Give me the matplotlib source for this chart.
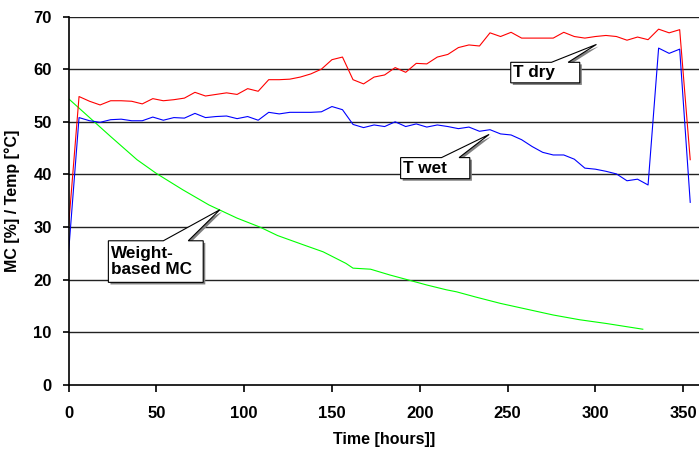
import numpy as np
import matplotlib
matplotlib.use("Agg")
import matplotlib.pyplot as plt
from matplotlib.patches import Polygon
import matplotlib.patheffects as pe

plt.rcParams['font.family'] = ['Liberation Sans', 'DejaVu Sans']
plt.rcParams['font.weight'] = 'bold'

# temperatures, logged every 6 hours
hours = np.arange(0, 355, 6)
t_dry = [30.0, 54.8, 53.9, 53.2, 54.0, 54.0, 53.9, 53.4, 54.4, 54.0,
         54.2, 54.5, 55.6, 54.9, 55.2, 55.5, 55.2, 56.3, 55.8, 58.0,
         58.0, 58.1, 58.5, 59.1, 60.0, 61.8, 62.3, 58.0, 57.2, 58.5,
         58.9, 60.3, 59.4, 61.1, 61.0, 62.3, 62.8, 64.1, 64.6, 64.4,
         66.9, 66.2, 67.0, 65.9, 65.9, 65.9, 65.9, 67.0, 66.2, 65.9,
         66.2, 66.4, 66.2, 65.5, 66.1, 65.6, 67.6, 66.9, 67.5, 42.8]
t_wet = [25.0, 50.8, 50.2, 49.9, 50.4, 50.5, 50.2, 50.2, 50.9, 50.3,
         50.8, 50.7, 51.6, 50.8, 51.0, 51.1, 50.6, 51.0, 50.3, 51.8,
         51.5, 51.8, 51.8, 51.8, 51.9, 52.9, 52.3, 49.5, 48.9, 49.4,
         49.1, 50.0, 49.1, 49.6, 49.0, 49.4, 49.1, 48.7, 49.0, 48.2,
         48.5, 47.7, 47.5, 46.6, 45.3, 44.2, 43.7, 43.7, 42.9, 41.2,
         41.0, 40.6, 40.1, 38.8, 39.1, 38.0, 64.0, 63.0, 63.8, 34.7]

# weight based moisture content
mc_hours = [0, 24, 39, 50, 65, 80, 96, 109, 119, 134, 145, 158, 162, 172,
            183, 193, 204, 215, 221, 232, 246, 261, 276, 291, 306, 327]
mc = [54.4, 47.2, 42.8, 40.2, 37.1, 34.2, 31.7, 30.0, 28.4, 26.6, 25.3,
      23.1, 22.2, 22.0, 20.9, 20.0, 19.0, 18.1, 17.7, 16.7, 15.5, 14.4,
      13.3, 12.4, 11.7, 10.6]

fig = plt.figure(figsize=(6.99, 4.5), dpi=100)
ax = fig.add_axes([0.098, 0.1444, 0.902, 0.8189])

ax.plot(mc_hours, mc, color='#00FF00', lw=0.8)
ax.plot(hours, t_dry, color='#FF0000', lw=0.8)
ax.plot(hours, t_wet, color='#0000FF', lw=0.8)

ax.set_xlim(0, 359)
ax.set_ylim(0, 70)
ax.set_xticks(range(0, 351, 50))
ax.set_yticks(range(0, 71, 10))
for v in range(10, 71, 10):
    ax.axhline(v, color='#222222', lw=1.0, zorder=0)

for s in ['top', 'right']:
    ax.spines[s].set_visible(False)
for s in ['left', 'bottom']:
    ax.spines[s].set_linewidth(1.2)
ax.tick_params(axis='x', direction='out', length=5, width=1.2, pad=10, labelsize=12)
ax.tick_params(axis='y', direction='out', length=4, width=1.2, pad=8, labelsize=12)

ax.set_xlabel('Time [hours]]', fontsize=11.5, fontweight='bold', labelpad=8)
ax.set_ylabel('MC [%] / Temp [°C]', fontsize=11.5, fontweight='bold', labelpad=10)


def callout(x0, x1, y0, y1, b1, b2, tip, text):
    pts = [(x0, y1), (b1, y1), tip, (b2, y1), (x1, y1), (x1, y0), (x0, y0)]
    poly = Polygon(pts, closed=True, facecolor='white', edgecolor='black',
                   lw=0.8, zorder=5,
                   path_effects=[pe.SimplePatchShadow(offset=(1.5, -1.5),
                                                      shadow_rgbFace='#808080', alpha=1),
                                 pe.Normal()])
    ax.add_patch(poly)
    ax.text(x0 + 1.5, (y0 + y1) / 2, text, fontsize=12.3, fontweight='bold',
            va='center', ha='left', zorder=6, linespacing=1.05)


callout(251.8, 291.1, 57.4, 61.3, 275.0, 284.5, (300.6, 64.7), 'T dry')
callout(189.1, 228.5, 39.2, 43.2, 212.4, 222.4, (239.5, 47.6), 'T wet')
callout(22.7, 76.7, 19.5, 27.4, 54.0, 68.2, (86.2, 33.3), 'Weight-\nbased MC')

fig.savefig('out.png', dpi=100)
